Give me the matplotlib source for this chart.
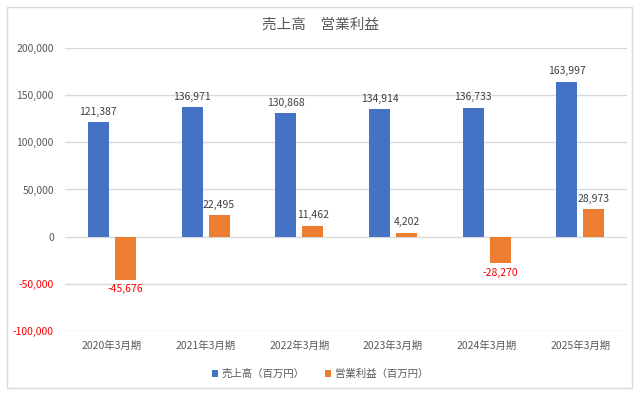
import numpy as np
import matplotlib
matplotlib.use('Agg')
import matplotlib.pyplot as plt
from matplotlib.patches import Rectangle
from matplotlib.ticker import FuncFormatter

plt.rcParams['font.family'] = ['Noto Sans CJK JP', 'DejaVu Sans']

# data
periods = ['2020年3月期', '2021年3月期', '2022年3月期', '2023年3月期', '2024年3月期', '2025年3月期']
sales = [121387, 136971, 130868, 134914, 136733, 163997]
op_profit = [-45676, 22495, 11462, 4202, -28270, 28973]
series_names = ['売上高（百万円）', '営業利益（百万円）']
title = '売上高　営業利益'

blue = '#4472C4'
orange = '#ED7D31'
text_gray = '#595959'
label_gray = '#404040'
neg_red = '#FF0000'

fig = plt.figure(figsize=(6.4, 3.96), dpi=100)
ax = fig.add_axes([0.1016, 0.164, 0.8784, 0.715])

# outer chart border
fig.patches.append(Rectangle((7 / 640, 1 - 388 / 396), 625 / 640, 381 / 396,
                             transform=fig.transFigure, fill=False,
                             edgecolor='#D9D9D9', linewidth=1))

x = np.arange(len(periods))
w = 0.225
off = 0.144
ax.bar(x - off, sales, w, color=blue, label=series_names[0], zorder=3)
ax.bar(x + off, op_profit, w, color=orange, label=series_names[1], zorder=3)

ax.set_xlim(-0.5, len(periods) - 0.5)
ax.set_ylim(-100000, 200000)
ax.set_yticks(np.arange(-100000, 200001, 50000))
ax.yaxis.set_major_formatter(FuncFormatter(lambda v, p: f'{int(v):,}'))
ax.grid(axis='y', color='#D9D9D9', linewidth=1, zorder=0)
for s in ax.spines.values():
    s.set_visible(False)
ax.tick_params(length=0, labelsize=7.5, colors=text_gray)
ax.tick_params(axis='y', pad=8)
ax.tick_params(axis='x', pad=7)
ax.set_xticks(x)
ax.set_xticklabels(periods)
for t, v in zip(ax.get_yticklabels(), ax.get_yticks()):
    if v < 0:
        t.set_color(neg_red)

# data labels
for xi, v in zip(x, sales):
    ax.annotate(f'{v:,}', (xi - off, v), xytext=(0, 4), textcoords='offset points',
                ha='center', va='bottom', fontsize=7.5, color=label_gray)
for xi, v in zip(x, op_profit):
    if v >= 0:
        ax.annotate(f'{v:,}', (xi + off, v), xytext=(0, 4), textcoords='offset points',
                    ha='center', va='bottom', fontsize=7.5, color=label_gray)
    else:
        ax.annotate(f'{v:,}', (xi + off, v), xytext=(0, -3), textcoords='offset points',
                    ha='center', va='top', fontsize=7.5, color=neg_red)

fig.text(0.5, 1 - 25 / 396, title, ha='center', va='center', fontsize=10.5, color=text_gray)

leg = fig.legend(loc='center', bbox_to_anchor=(0.5, 1 - 374 / 396), ncol=2, frameon=False,
                 fontsize=7.5, handlelength=0.6, handleheight=0.6, handletextpad=0.3,
                 columnspacing=2.0)
for t in leg.get_texts():
    t.set_color(text_gray)

fig.savefig('out.png', dpi=100)
